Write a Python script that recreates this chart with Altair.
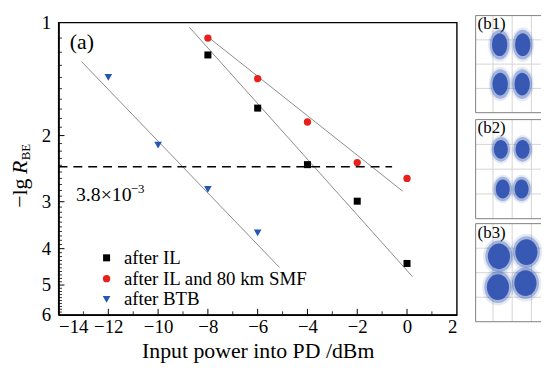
import altair as alt
import pandas as pd

# ---------------- data ----------------
series_names = ["after IL", "after IL and 80 km SMF", "after BTB"]
series_colors = ["#000000", "#e8201c", "#2656b4"]
series_shapes = ["square", "circle", "triangle-down"]
series_sizes = [50, 60, 75]

power_il = [-8, -6, -4, -2, 0]
ber_il = [1.22, 1.69, 2.39, 2.99, 4.38]
power_smf = [-8, -6, -4, -2, 0]
ber_smf = [1.10, 1.41, 1.84, 2.36, 2.60]
power_btb = [-12, -10, -8, -6]
ber_btb = [1.40, 2.12, 2.78, 3.63]

fit_x_start = [-8.74, -7.94, -13.08]
fit_y_start = [1.03, 1.10, 1.27]
fit_x_end = [0.22, -0.18, -5.12]
fit_y_end = [4.75, 2.81, 4.49]

fec_limit = 2.42          # -lg(3.8e-3)
fec_x_range = [-14, -0.6]

x_major = [-14, -12, -10, -8, -6, -4, -2, 0, 2]
x_inner_major = [-12, -10, -8, -6, -4, -2, 0]
x_minor = [-13, -11, -9, -7, -5, -3, -1, 1]
y_major = [1, 2, 3, 4, 5, 6]
y_inner_major = [2, 3, 4, 5]
y_minor = [round(i / 10, 1) for i in range(11, 60) if i % 10 != 0]

# constellation cluster centres (I, Q)
b1_i = [-0.65, 0.55, -0.62, 0.52]
b1_q = [0.80, 0.80, -0.82, -0.82]
b2_i = [-0.59, 0.54, -0.49, 0.49]
b2_q = [0.80, 0.80, -0.80, -0.80]
b3_i = [-0.69, 0.74, -0.74, 0.69]
b3_q = [0.67, 0.84, -0.59, -0.43]
grid_vals = [-1, 0, 1]

# ---------------- styles ----------------
FONT = "Liberation Serif"
W, H = 402, 295
BLUE = "#2c4fae"

xs = alt.Scale(domain=[-14, 2], nice=False, zero=False)
ys = alt.Scale(type="log", domain=[1, 6], reverse=True, nice=False)

x_axis = alt.Axis(values=x_major, format="d", ticks=False, grid=False,
                  labelFont=FONT, labelFontSize=19, labelColor="black", labelPadding=3,
                  domainColor="black", domainWidth=1.5,
                  title="Input power into PD /dBm", titleFont=FONT, titleFontSize=22,
                  titleFontWeight="normal", titleColor="black", titlePadding=4)
y_axis = alt.Axis(values=y_major, format="d", ticks=False, grid=False,
                  labelFont=FONT, labelFontSize=19, labelColor="black", labelPadding=8,
                  domainColor="black", domainWidth=1.5, title=None)


def X(field):
    return alt.X(field, type="quantitative", scale=xs, axis=x_axis)


def Y(field):
    return alt.Y(field, type="quantitative", scale=ys, axis=y_axis)


pts = pd.DataFrame({
    "series": [series_names[0]] * len(power_il) + [series_names[1]] * len(power_smf)
              + [series_names[2]] * len(power_btb),
    "power": power_il + power_smf + power_btb,
    "value": ber_il + ber_smf + ber_btb,
})
fit = pd.DataFrame({
    "series": series_names * 2,
    "power": fit_x_start + fit_x_end,
    "value": fit_y_start + fit_y_end,
})

lines = alt.Chart(fit).mark_line(color="#8c8c8c", strokeWidth=1).encode(
    x=X("power"), y=Y("value"), detail="series:N")

fec = alt.Chart(pd.DataFrame({"x": [fec_x_range[0]], "x2": [fec_x_range[1]], "y": [fec_limit]})
                ).mark_rule(strokeDash=[9, 6], strokeWidth=1.5, color="black").encode(
    x=X("x"), x2="x2", y=Y("y"))

leg = alt.Legend(orient="none", legendX=39, legendY=228, title=None, labelFont=FONT,
                 labelFontSize=19, labelColor="black", symbolSize=60, labelOffset=8,
                 labelLimit=400, rowPadding=1, padding=0, symbolStrokeWidth=0)
points = alt.Chart(pts).mark_point(filled=True, opacity=1).encode(
    x=X("power"), y=Y("value"),
    shape=alt.Shape("series:N", sort=series_names,
                    scale=alt.Scale(domain=series_names, range=series_shapes), legend=leg),
    color=alt.Color("series:N", sort=series_names,
                    scale=alt.Scale(domain=series_names, range=series_colors), legend=leg),
    size=alt.Size("series:N", scale=alt.Scale(domain=series_names, range=series_sizes),
                  legend=None),
)

ymaj = alt.Chart(pd.DataFrame({"v": y_inner_major})).mark_rule(color="black", strokeWidth=1).encode(
    y=Y("v"), x=alt.value(0), x2=alt.value(6))
ymin = alt.Chart(pd.DataFrame({"v": y_minor})).mark_rule(color="black", strokeWidth=0.8).encode(
    y=Y("v"), x=alt.value(0), x2=alt.value(3.5))
xmaj = alt.Chart(pd.DataFrame({"v": x_inner_major})).mark_rule(color="black", strokeWidth=1).encode(
    x=X("v"), y=alt.value(H), y2=alt.value(H - 6))
xmin = alt.Chart(pd.DataFrame({"v": x_minor})).mark_rule(color="black", strokeWidth=0.8).encode(
    x=X("v"), y=alt.value(H), y2=alt.value(H - 3.5))

lab_a = alt.Chart(pd.DataFrame({"x": [-13.55], "y": [1.13], "t": ["(a)"]})).mark_text(
    font=FONT, fontSize=22, align="left", baseline="middle", color="black").encode(
    x=X("x"), y=Y("y"), text="t:N")
lab_fec = alt.Chart(pd.DataFrame({"x": [-13.3], "y": [2.88], "t": ["3.8×10"]})).mark_text(
    font=FONT, fontSize=20, align="left", baseline="middle", color="black").encode(
    x=X("x"), y=Y("y"), text="t:N")
lab_fec_exp = alt.Chart(pd.DataFrame({"x": [-11.1], "y": [2.78], "t": ["−3"]})).mark_text(
    font=FONT, fontSize=13, align="left", baseline="middle", color="black").encode(
    x=X("x"), y=Y("y"), text="t:N")

one = pd.DataFrame({"a": [0]})
ttl1 = alt.Chart(one).mark_text(font=FONT, fontSize=22, angle=270, align="left",
                                baseline="middle", color="black").encode(
    x=alt.value(-39), y=alt.value(187), text=alt.value("−lg"))
ttl2 = alt.Chart(one).mark_text(font=FONT, fontSize=22, angle=270, align="left",
                                baseline="middle", fontStyle="italic", color="black").encode(
    x=alt.value(-39), y=alt.value(153), text=alt.value("R"))
ttl3 = alt.Chart(one).mark_text(font=FONT, fontSize=13, angle=270, align="left",
                                baseline="middle", color="black").encode(
    x=alt.value(-33), y=alt.value(139), text=alt.value("BE"))

main = alt.layer(lines, fec, ymin, ymaj, xmin, xmaj, points, lab_a, lab_fec, lab_fec_exp,
                 ttl1, ttl2, ttl3).properties(
    width=W, height=H, view=alt.ViewBackground(stroke="black", strokeWidth=1.4))

# ---------------- constellations (one column, three boxes) ----------------
PW = 66
# box top / bottom in pixels relative to the main plot's top edge
boxes = [(-7, 91), (98, 198), (203, 302)]
xsc = alt.Scale(domain=[-1.9, 1.5], nice=False, zero=False)


def ellipse(a):
    return f"M {-a},0 A {a},1 0 1,0 {a},0 A {a},1 0 1,0 {-a},0 Z"


def panel(label, ci, cq, box, aspect, core_size, halo_size):
    top, bot = box
    ysc = alt.Scale(domain=[-2, 2], range=[bot, top], nice=False, zero=False)
    df = pd.DataFrame({"i": ci, "q": cq})
    g = pd.DataFrame({"g": grid_vals})
    gv = alt.Chart(g).mark_rule(color="#d4d4d4", strokeWidth=1).encode(
        x=alt.X("g:Q", scale=xsc, axis=None), y=alt.value(top), y2=alt.value(bot))
    gh = alt.Chart(g).mark_rule(color="#d4d4d4", strokeWidth=1).encode(
        y=alt.Y("g:Q", scale=ysc, axis=None), x=alt.value(0), x2=alt.value(PW))
    shp = ellipse(aspect)
    enc = dict(x=alt.X("i:Q", scale=xsc, axis=None), y=alt.Y("q:Q", scale=ysc, axis=None))
    fringe = alt.Chart(df).mark_point(shape=shp, filled=True, color=BLUE, opacity=0.12,
                                      size=int(halo_size * 1.35), strokeWidth=0).encode(**enc)
    halo = alt.Chart(df).mark_point(shape=shp, filled=True, color=BLUE, opacity=0.35,
                                    size=halo_size, strokeWidth=0).encode(**enc)
    core = alt.Chart(df).mark_point(shape=shp, filled=True, color=BLUE, opacity=0.9,
                                    size=core_size, strokeWidth=0).encode(**enc)
    bl = alt.Chart(one).mark_rule(color="#808080", strokeWidth=1).encode(
        x=alt.value(0), y=alt.value(top), y2=alt.value(bot))
    bt = alt.Chart(one).mark_rule(color="#808080", strokeWidth=1).encode(
        y=alt.value(top), x=alt.value(0), x2=alt.value(PW))
    bb = alt.Chart(one).mark_rule(color="#808080", strokeWidth=1).encode(
        y=alt.value(bot), x=alt.value(0), x2=alt.value(PW))
    txt = alt.Chart(one).mark_text(font=FONT, fontSize=17, align="left", baseline="top",
                                   color="black").encode(
        x=alt.value(2), y=alt.value(top + 1), text=alt.value(label))
    return [gv, gh, fringe, halo, core, bl, bt, bb, txt]


layers = (panel("(b1)", b1_i, b1_q, boxes[0], 0.67, 529, 900)
          + panel("(b2)", b2_i, b2_q, boxes[1], 0.74, 361, 620)
          + panel("(b3)", b3_i, b3_q, boxes[2], 0.86, 676, 1020))
column = alt.layer(*layers).resolve_scale(y="independent").properties(
    width=PW, height=H, view=alt.ViewBackground(stroke="transparent"))

chart = alt.hconcat(main, column, spacing=17).configure(
    padding={"left": 0, "top": 3, "right": 0, "bottom": 0}
).configure_view(stroke="transparent")

chart.save("out.html", embed_options={"renderer": "svg", "actions": False})
